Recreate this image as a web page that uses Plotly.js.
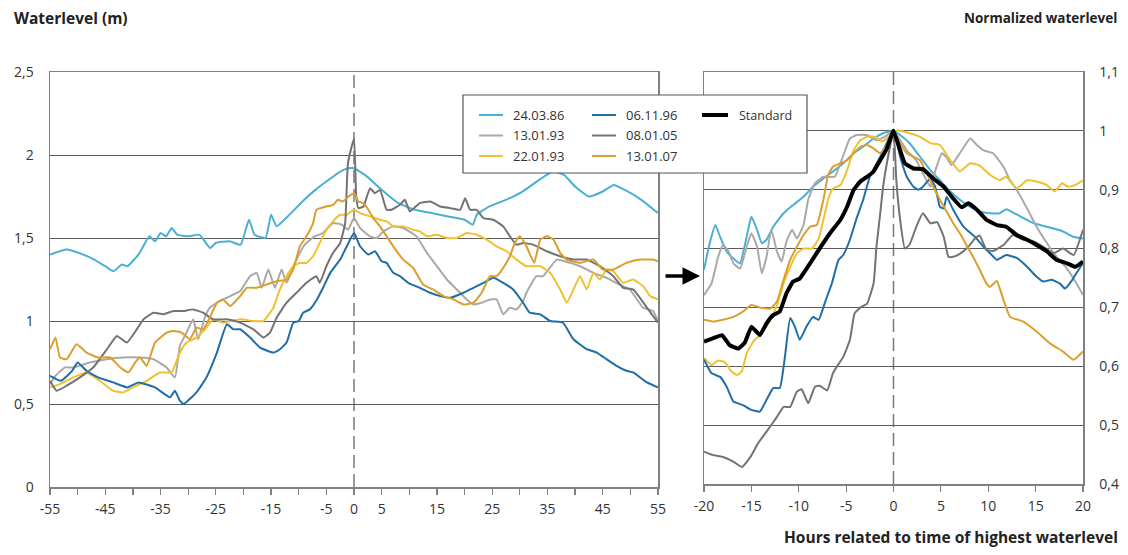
<!DOCTYPE html>
<html>
<head>
<meta charset="utf-8">
<script src="https://cdn.plot.ly/plotly-3.0.1.min.js"></script>
<style>html,body{margin:0;padding:0;background:#fff;}#chart{width:1128px;height:555px;}</style>
</head>
<body>
<div id="chart"></div>
<script>
// ---------- DATA ----------
const seriesNames = ['24.03.86', '13.01.93', '22.01.93', '06.11.96', '08.01.05', '13.01.07'];
const standardName = 'Standard';

// Left panel: waterlevel (m) vs hours
const leftX_240386 = [-55,-52,-49,-47,-45,-43.5,-42,-41,-39,-37,-36,-35,-34,-33,-32,-30,-28,-26,-25,-22.5,-20.5,-19,-18,-16,-15,-14,-12,-9,-7,-5,-2.5,-1,0,2,5,8,11,14,17,20,21.5,22.2,24.5,27.5,30.5,33.5,36,38,40,42.5,45,47,49,52,55];
const leftY_240386 = [1.40,1.43,1.40,1.37,1.33,1.30,1.34,1.33,1.40,1.51,1.48,1.53,1.51,1.56,1.52,1.51,1.52,1.44,1.47,1.48,1.46,1.61,1.52,1.50,1.64,1.57,1.63,1.73,1.79,1.84,1.90,1.92,1.92,1.88,1.79,1.71,1.67,1.65,1.63,1.61,1.58,1.64,1.69,1.73,1.78,1.85,1.90,1.88,1.81,1.75,1.78,1.82,1.79,1.73,1.65];

const leftX_130193 = [-55,-54,-52.3,-50.8,-47.8,-44.7,-41.7,-38.7,-36.3,-33.9,-32.4,-31.5,-30.3,-29.1,-28.2,-27,-26.1,-24.8,-23,-20.6,-18.8,-17.6,-16.7,-15.5,-14.3,-13.1,-12.2,-10.7,-8.9,-7.1,-5.6,-3.8,-2.2,-1.1,0,1.1,2.9,4.1,5.3,7.1,8.9,11.3,13.2,15,16.8,18.6,20.4,21.6,23.1,24.6,25.8,27,28.2,29.4,30.6,31.2,33,34.2,36.7,39.1,40.9,43.3,45.7,48,49.9,52.3,54.1,55];
const leftY_130193 = [0.62,0.67,0.72,0.72,0.75,0.77,0.78,0.78,0.77,0.72,0.66,0.85,0.93,1.01,0.89,1.02,1.08,1.11,1.14,1.18,1.27,1.29,1.20,1.31,1.20,1.31,1.23,1.35,1.46,1.51,1.53,1.59,1.58,1.55,1.62,1.56,1.51,1.50,1.54,1.57,1.56,1.51,1.41,1.33,1.25,1.19,1.13,1.10,1.11,1.13,1.13,1.04,1.08,1.07,1.12,1.17,1.27,1.27,1.37,1.35,1.33,1.29,1.26,1.22,1.19,1.08,1.06,1.00];

const leftX_220193 = [-55,-53.2,-50.8,-48.4,-46,-43.6,-41.8,-40,-37.5,-35.1,-33,-31.5,-30.3,-28.5,-26.7,-25.5,-23.7,-20.6,-18.2,-16.4,-14.6,-13.4,-12.2,-11,-9.8,-8.6,-7.4,-6.2,-5,-3.8,-2.5,-1.3,0,1.1,2.9,4.7,5.9,7.1,8.9,10.7,11.9,13.2,15,16.8,18.6,20.4,22.2,24,25.8,27.6,29.4,31.2,33.7,35.5,37.3,38.5,39.7,40.9,42.1,43.3,44.5,45.7,46.9,48.7,50.5,52.3,53.6,55];
const leftY_220193 = [0.60,0.62,0.66,0.69,0.64,0.58,0.57,0.60,0.64,0.69,0.69,0.81,0.87,0.90,0.96,1.01,0.99,1.01,1.00,1.00,1.08,1.19,1.27,1.33,1.35,1.35,1.39,1.47,1.55,1.60,1.64,1.64,1.67,1.65,1.63,1.61,1.60,1.57,1.57,1.55,1.54,1.51,1.52,1.50,1.50,1.53,1.52,1.49,1.45,1.42,1.37,1.33,1.33,1.29,1.19,1.11,1.19,1.27,1.19,1.29,1.25,1.31,1.30,1.23,1.25,1.21,1.15,1.13];

const leftX_061196 = [-55,-53,-51,-50,-48.4,-46.3,-43.6,-41,-39,-36,-33.3,-32.4,-31.5,-30.8,-28.5,-26.7,-24.8,-23,-21.8,-20.6,-18.8,-17,-14.6,-13.4,-12.2,-11,-10,-9.2,-8,-6.7,-5.6,-4.3,-2.5,-1.3,0,1.1,2.6,3.8,5,5.9,7.1,8.3,9.8,11.9,13.8,15.6,17.4,19.8,21.6,23.4,25.2,27,28.8,30.6,31.8,33.7,35.5,37.8,39.7,42.1,43.9,45.7,47.5,49.3,50.5,53,55];
const leftY_061196 = [0.67,0.64,0.70,0.75,0.70,0.66,0.63,0.60,0.63,0.60,0.54,0.58,0.52,0.50,0.57,0.66,0.81,0.98,0.95,0.95,0.90,0.84,0.81,0.83,0.87,0.99,1.00,1.05,1.07,1.13,1.20,1.29,1.37,1.45,1.53,1.45,1.40,1.42,1.36,1.35,1.29,1.27,1.23,1.20,1.17,1.15,1.14,1.17,1.20,1.23,1.26,1.23,1.19,1.11,1.05,1.04,1.00,0.99,0.89,0.83,0.81,0.77,0.73,0.70,0.69,0.63,0.60];

const leftX_080105 = [-55,-53.8,-52,-49.6,-47.2,-44.7,-42.9,-41.1,-39.3,-38.1,-36.3,-34.5,-32.7,-30.9,-29.1,-27.3,-25.5,-23,-20.6,-18.2,-16.4,-15.2,-14,-12.2,-10.4,-8.6,-6.8,-6.2,-5,-3.8,-2.5,-1.6,-1.1,0,0.4,0.8,1.7,2.9,3.8,4.7,5.9,6.8,8.3,9.2,10.1,11.9,13.8,15.6,17.4,19.2,20.1,21,22.2,23.4,25.2,27,28.2,29.4,30.6,32.4,34.9,37.3,39.7,42.1,44.5,46.9,48.7,50.5,53,55];
const leftY_080105 = [0.64,0.58,0.61,0.66,0.72,0.83,0.91,0.87,0.95,1.01,1.05,1.04,1.06,1.06,1.07,1.05,1.01,1.01,0.99,0.95,0.90,0.93,1.02,1.11,1.17,1.23,1.27,1.23,1.33,1.41,1.47,1.59,1.95,2.10,1.75,1.68,1.69,1.80,1.77,1.79,1.67,1.67,1.70,1.73,1.66,1.71,1.72,1.69,1.68,1.67,1.74,1.67,1.67,1.62,1.61,1.57,1.51,1.46,1.47,1.46,1.42,1.39,1.37,1.37,1.33,1.27,1.20,1.19,1.08,0.99];

const leftX_130107 = [-55,-54,-53.2,-52,-50.2,-48.4,-46.3,-44.1,-42.3,-40.8,-39.6,-38.7,-37.5,-36,-33.9,-32.7,-31.2,-29.7,-28.5,-27.3,-26.1,-24.8,-23.7,-22.4,-20.6,-19.4,-17.6,-15.8,-14,-12.2,-11,-9.8,-8.6,-7.4,-6.8,-5,-3.8,-2.9,-2,-1,0,0.8,1.7,2.6,3.5,4.7,5.9,7.1,8.9,10.7,12.5,14.3,16.2,18,19.8,21.6,23.1,24.6,25.8,27,28.2,29.1,30,31.2,32.6,33.7,34.9,36.1,37.3,38.5,40.9,43.3,45,46.9,49.3,51.7,54.1,55];
const leftY_130107 = [0.83,0.90,0.78,0.77,0.86,0.81,0.78,0.78,0.72,0.69,0.75,0.78,0.73,0.87,0.93,0.94,0.93,0.89,0.96,0.95,1.02,1.11,1.13,1.09,1.15,1.20,1.20,1.22,1.24,1.25,1.31,1.45,1.51,1.59,1.67,1.69,1.70,1.73,1.72,1.75,1.77,1.72,1.71,1.67,1.62,1.57,1.51,1.45,1.37,1.32,1.22,1.19,1.15,1.13,1.10,1.11,1.17,1.27,1.27,1.32,1.39,1.47,1.51,1.45,1.35,1.49,1.51,1.49,1.41,1.37,1.35,1.37,1.31,1.31,1.35,1.37,1.37,1.36];

// Right panel: normalized waterlevel vs hours
const rightX_240386 = [-20,-19.4,-18.8,-18.3,-17.6,-16.9,-16.2,-15.5,-15,-14.4,-13.9,-13.4,-12.7,-11.6,-10.6,-9.5,-8.5,-7.4,-6.4,-5.3,-4.2,-3.2,-2.1,-1.1,0,0.7,1.7,2.8,3.9,4.9,6,7,8.1,9.1,10.2,11.2,11.9,13,14.8,16.9,17.9,19,20];
const rightY_240386 = [0.764,0.809,0.840,0.820,0.795,0.783,0.775,0.820,0.854,0.832,0.809,0.815,0.837,0.860,0.874,0.888,0.905,0.919,0.931,0.945,0.962,0.973,0.987,0.996,1.0,0.993,0.979,0.956,0.933,0.916,0.897,0.883,0.871,0.863,0.860,0.860,0.867,0.858,0.843,0.834,0.829,0.820,0.817];

const rightX_130193 = [-20,-19.2,-18.5,-18,-17.4,-16.9,-16.2,-15.5,-15,-14.4,-13.9,-13.4,-12.9,-12.3,-11.8,-11.3,-10.7,-10.2,-9.5,-9,-8.3,-7.4,-6.2,-5.6,-5.1,-4.6,-3.9,-2.8,-1.8,-0.9,0,1.4,2.4,3.1,3.9,4.4,5.1,5.6,6.1,7,8.1,8.8,9.5,10.5,11.6,12.3,13,14.1,15.1,16.2,17.2,18.3,19.3,20];
const rightY_130193 = [0.721,0.741,0.786,0.806,0.795,0.775,0.766,0.803,0.826,0.803,0.758,0.786,0.832,0.795,0.778,0.812,0.832,0.817,0.840,0.883,0.911,0.922,0.922,0.945,0.967,0.987,0.993,0.993,0.984,0.990,1.0,0.967,0.950,0.928,0.905,0.932,0.962,0.955,0.942,0.962,0.987,0.976,0.967,0.962,0.939,0.916,0.900,0.868,0.837,0.809,0.786,0.766,0.741,0.721];

const rightX_220193 = [-20,-19.2,-18.5,-17.8,-17.1,-16.5,-16,-15.5,-14.8,-13.9,-13,-12.3,-11.6,-10.9,-10.2,-9.5,-8.6,-7.9,-7.4,-6.9,-6.4,-5.6,-4.9,-4.2,-3.5,-2.8,-2,-1.2,-0.5,0,0.7,1.7,2.8,3.9,4.9,6,7,8.1,9.1,10.2,11.2,11.9,13,14.1,15.1,16.2,17,17.8,18.4,19.2,20];
const rightY_220193 = [0.614,0.602,0.610,0.607,0.591,0.585,0.592,0.622,0.642,0.656,0.679,0.704,0.741,0.769,0.792,0.800,0.800,0.817,0.849,0.883,0.902,0.908,0.933,0.967,0.984,0.990,0.990,0.982,0.990,1.0,1.0,0.996,0.990,0.979,0.976,0.950,0.931,0.945,0.941,0.925,0.916,0.922,0.902,0.916,0.914,0.908,0.897,0.911,0.905,0.908,0.916];

const rightX_061196 = [-20,-19.2,-18.3,-17.6,-16.9,-15.9,-15,-14.1,-13.4,-12.7,-12,-11.5,-10.9,-10.4,-9.9,-9.2,-8.5,-7.9,-7.2,-6.5,-5.8,-5.3,-4.6,-3.9,-3.2,-2.5,-1.4,0,0.7,1.4,2.1,2.6,3.1,3.9,4.4,4.9,5.3,5.6,6.3,7.4,8.6,9.5,10.2,10.9,11.9,13,14.1,15.1,15.8,16.7,17.6,18.1,18.8,19.3,20];
const rightY_061196 = [0.611,0.588,0.582,0.565,0.540,0.534,0.526,0.523,0.543,0.563,0.563,0.611,0.682,0.667,0.645,0.667,0.684,0.679,0.710,0.741,0.781,0.789,0.815,0.851,0.883,0.922,0.956,1.0,0.956,0.922,0.905,0.900,0.905,0.919,0.905,0.871,0.868,0.888,0.866,0.837,0.820,0.803,0.792,0.781,0.789,0.784,0.769,0.752,0.744,0.747,0.740,0.732,0.745,0.758,0.775];

const rightX_080105 = [-20,-19,-18,-16.9,-16,-15.1,-14.3,-13.4,-12.3,-11.6,-10.9,-10.2,-9.7,-9,-8.3,-7.8,-7,-6.4,-6,-5.3,-4.6,-4.1,-3.4,-2.8,-2.1,-1.8,-1.4,-1.1,-0.7,0,0.3,0.7,1.2,1.7,2.4,3.1,3.9,4.6,5.3,5.8,6.3,7,7.9,8.6,9.1,9.8,10.5,11.6,12.6,13.7,14.8,15.8,16.9,17.9,19,20];
const rightY_080105 = [0.455,0.449,0.446,0.438,0.429,0.446,0.469,0.489,0.514,0.531,0.531,0.557,0.561,0.537,0.565,0.567,0.559,0.588,0.599,0.616,0.645,0.690,0.701,0.706,0.741,0.803,0.860,0.905,0.945,1.0,0.916,0.849,0.800,0.807,0.837,0.860,0.843,0.845,0.820,0.786,0.786,0.791,0.803,0.817,0.822,0.798,0.796,0.806,0.823,0.815,0.812,0.803,0.792,0.800,0.789,0.832];

const rightX_130107 = [-20,-19,-18,-16.9,-15.9,-15,-14.1,-13,-12.3,-11.6,-10.9,-10.2,-9.5,-8.8,-8.1,-7.4,-6.9,-6.4,-5.6,-4.9,-4.2,-3.5,-2.8,-2.1,-1.4,-0.7,0,0.7,1.4,2.1,2.8,3.5,4.2,4.9,5.6,6.3,7,7.7,8.4,9.1,9.8,10.2,10.9,11.6,12.3,13.7,15.1,16.5,17.9,19,20];
const rightY_130107 = [0.679,0.676,0.679,0.684,0.693,0.704,0.700,0.698,0.710,0.747,0.781,0.803,0.823,0.837,0.840,0.883,0.925,0.939,0.945,0.950,0.962,0.973,0.976,0.970,0.962,0.976,1.0,0.979,0.962,0.956,0.950,0.928,0.905,0.883,0.863,0.843,0.826,0.806,0.786,0.764,0.741,0.735,0.745,0.713,0.684,0.676,0.659,0.639,0.625,0.611,0.625];

const standardX = [-20,-19,-18.1,-17.3,-16.4,-15.7,-15,-14.1,-13.4,-12.7,-12,-11.3,-10.6,-9.9,-8.8,-7.8,-6.7,-5.6,-4.9,-4.2,-3.5,-2.8,-2.1,-1.4,-0.7,0,0.7,1.2,2.1,3.1,4.2,5.3,6.3,7.2,7.9,8.8,9.8,10.9,11.9,13,14.1,15.1,16.2,17.2,18.3,19.2,20];
const standardY = [0.642,0.648,0.653,0.636,0.630,0.640,0.667,0.653,0.673,0.687,0.693,0.724,0.744,0.749,0.775,0.800,0.826,0.849,0.871,0.900,0.914,0.922,0.931,0.950,0.970,1.0,0.967,0.945,0.936,0.935,0.919,0.905,0.885,0.870,0.877,0.866,0.849,0.840,0.837,0.823,0.815,0.806,0.795,0.781,0.775,0.769,0.778];

// Tick labels
const leftXTickVals = [-55,-50,-45,-40,-35,-30,-25,-20,-15,-10,-5,0,5,10,15,20,25,30,35,40,45,50,55];
const leftXTickText = ['-55','','-45','','-35','','-25','','-15','','-5','0','5','','15','','25','','35','','45','','55'];
const leftYTickVals = [0,0.5,1,1.5,2,2.5];
const leftYTickText = ['0','0,5','1','1,5','2','2,5'];
const rightXTickVals = [-20,-15,-10,-5,0,5,10,15,20];
const rightXTickText = ['-20','-15','-10','-5','0','5','10','15','20'];
const rightYTickVals = [0.4,0.5,0.6,0.7,0.8,0.9,1.0,1.1];
const rightYTickText = ['0,4','0,5','0,6','0,7','0,8','0,9','1','1,1'];

// ---------- STYLE ----------
const colors = {
  '24.03.86': '#4bafd4',
  '13.01.93': '#a9a9a9',
  '22.01.93': '#f0c12f',
  '06.11.96': '#1f6ea7',
  '08.01.05': '#737373',
  '13.01.07': '#dc9e2d'
};
const FONT = 'Open Sans, Noto Sans, sans-serif';
const TXT = '#333333';

const leftData = {
  '24.03.86': [leftX_240386, leftY_240386],
  '13.01.93': [leftX_130193, leftY_130193],
  '22.01.93': [leftX_220193, leftY_220193],
  '06.11.96': [leftX_061196, leftY_061196],
  '08.01.05': [leftX_080105, leftY_080105],
  '13.01.07': [leftX_130107, leftY_130107]
};
const rightData = {
  '24.03.86': [rightX_240386, rightY_240386],
  '13.01.93': [rightX_130193, rightY_130193],
  '22.01.93': [rightX_220193, rightY_220193],
  '06.11.96': [rightX_061196, rightY_061196],
  '08.01.05': [rightX_080105, rightY_080105],
  '13.01.07': [rightX_130107, rightY_130107]
};

const traces = [];
seriesNames.forEach(n => {
  traces.push({x: leftData[n][0], y: leftData[n][1], xaxis: 'x', yaxis: 'y', type: 'scatter', mode: 'lines',
    name: n, showlegend: false, hoverinfo: 'skip', line: {color: colors[n], width: 2, shape: 'spline', smoothing: 0.4}});
});
seriesNames.forEach(n => {
  traces.push({x: rightData[n][0], y: rightData[n][1], xaxis: 'x2', yaxis: 'y2', type: 'scatter', mode: 'lines',
    name: n, showlegend: false, hoverinfo: 'skip', line: {color: colors[n], width: 2, shape: 'spline', smoothing: 0.4}});
});
traces.push({x: standardX, y: standardY, xaxis: 'x2', yaxis: 'y2', type: 'scatter', mode: 'lines',
  name: standardName, showlegend: false, hoverinfo: 'skip', line: {color: '#000000', width: 4, shape: 'spline', smoothing: 0.3}});

// ---------- LAYOUT ----------
const W = 1128, H = 555;
const M = {l: 50, r: 45, t: 72, b: 68};
const PW = W - M.l - M.r, PH = H - M.t - M.b;
const px = v => (v - M.l) / PW;           // pixel x -> paper x
const py = v => (H - M.b - v) / PH;       // pixel y -> paper y

const axisCommon = {
  showline: true, linecolor: '#808080', linewidth: 1.5, mirror: true, zeroline: false,
  tickfont: {family: FONT, size: 14, color: TXT}, fixedrange: true
};

const shapes = [
  {type: 'line', xref: 'x', yref: 'y', x0: 0, x1: 0, y0: 0, y1: 2.5, layer: 'below',
   line: {color: '#7a7a7a', width: 1.5, dash: '13px,6px'}},
  {type: 'line', xref: 'x2', yref: 'y2', x0: 0, x1: 0, y0: 0.4, y1: 1.1, layer: 'below',
   line: {color: '#7a7a7a', width: 1.5, dash: '13px,6px'}},
  // legend box
  {type: 'rect', xref: 'paper', yref: 'paper', x0: px(463), x1: px(807), y0: py(173), y1: py(95),
   fillcolor: '#ffffff', line: {color: '#555555', width: 1.2}, layer: 'above'}
];
const annotations = [
  {xref: 'paper', yref: 'paper', x: px(12), y: py(18), xanchor: 'left', yanchor: 'middle', showarrow: false,
   text: '<b>Waterlevel (m)</b>', font: {family: FONT, size: 15.5, color: '#222'}},
  {xref: 'paper', yref: 'paper', x: px(1119), y: py(18), xanchor: 'right', yanchor: 'middle', showarrow: false,
   text: '<b>Normalized waterlevel</b>', font: {family: FONT, size: 13.5, color: '#222'}},
  {xref: 'paper', yref: 'paper', x: px(1120), y: py(537), xanchor: 'right', yanchor: 'middle', showarrow: false,
   text: '<b>Hours related to time of highest waterlevel</b>', font: {family: FONT, size: 15.5, color: '#222'}},
  {xref: 'paper', yref: 'paper', x: px(700), y: py(276), ax: -36, ay: 0, axref: 'pixel', ayref: 'pixel',
   showarrow: true, arrowhead: 2, arrowsize: 1, arrowwidth: 3.5, arrowcolor: '#000', text: ''}
];

// legend entries
const legendCols = [
  {lx0: 479, lx1: 503, tx: 511, items: ['24.03.86', '13.01.93', '22.01.93']},
  {lx0: 592, lx1: 616, tx: 624, items: ['06.11.96', '08.01.05', '13.01.07']},
  {lx0: 702, lx1: 728, tx: 737, items: [standardName]}
];
const legendRows = [115, 135.5, 156];
legendCols.forEach(col => {
  col.items.forEach((n, i) => {
    const yy = py(legendRows[i]);
    const isStd = n === standardName;
    shapes.push({type: 'line', xref: 'paper', yref: 'paper', x0: px(col.lx0), x1: px(col.lx1), y0: yy, y1: yy,
      layer: 'above', line: {color: isStd ? '#000' : colors[n], width: isStd ? 4 : 2}});
    annotations.push({xref: 'paper', yref: 'paper', x: px(col.tx), y: yy, xanchor: 'left', yanchor: 'middle',
      showarrow: false, text: n, font: {family: FONT, size: isStd ? 12.5 : 13, color: TXT}});
  });
});

const layout = {
  width: W, height: H, margin: M, paper_bgcolor: '#ffffff', plot_bgcolor: '#ffffff',
  showlegend: false, font: {family: FONT, color: TXT},
  xaxis: Object.assign({}, axisCommon, {domain: [0, px(658)], range: [-55, 55], anchor: 'y',
    tickmode: 'array', tickvals: leftXTickVals, ticktext: leftXTickText, ticklabelstandoff: 3,
    ticks: 'outside', ticklen: 6, tickcolor: '#808080', tickwidth: 1.2, showgrid: false}),
  yaxis: Object.assign({}, axisCommon, {domain: [0, 1], range: [0, 2.5], anchor: 'x',
    tickmode: 'array', tickvals: leftYTickVals, ticktext: leftYTickText, ticks: '', ticklabelstandoff: 12,
    showgrid: true, gridcolor: '#5c5c5c', gridwidth: 1}),
  xaxis2: Object.assign({}, axisCommon, {domain: [px(704), 1], range: [-20, 20], anchor: 'y2',
    tickmode: 'array', tickvals: rightXTickVals, ticktext: rightXTickText, ticklabelstandoff: 3,
    ticks: 'outside', ticklen: 6, tickcolor: '#808080', tickwidth: 1.2, showgrid: false}),
  yaxis2: Object.assign({}, axisCommon, {domain: [py(484), 1], range: [0.4, 1.1], anchor: 'x2', side: 'right',
    tickmode: 'array', tickvals: rightYTickVals, ticktext: rightYTickText, ticks: '', ticklabelstandoff: 12,
    showgrid: true, gridcolor: '#5c5c5c', gridwidth: 1}),
  shapes: shapes,
  annotations: annotations
};

Plotly.newPlot('chart', traces, layout, {staticPlot: true, displayModeBar: false});
</script>
</body>
</html>
